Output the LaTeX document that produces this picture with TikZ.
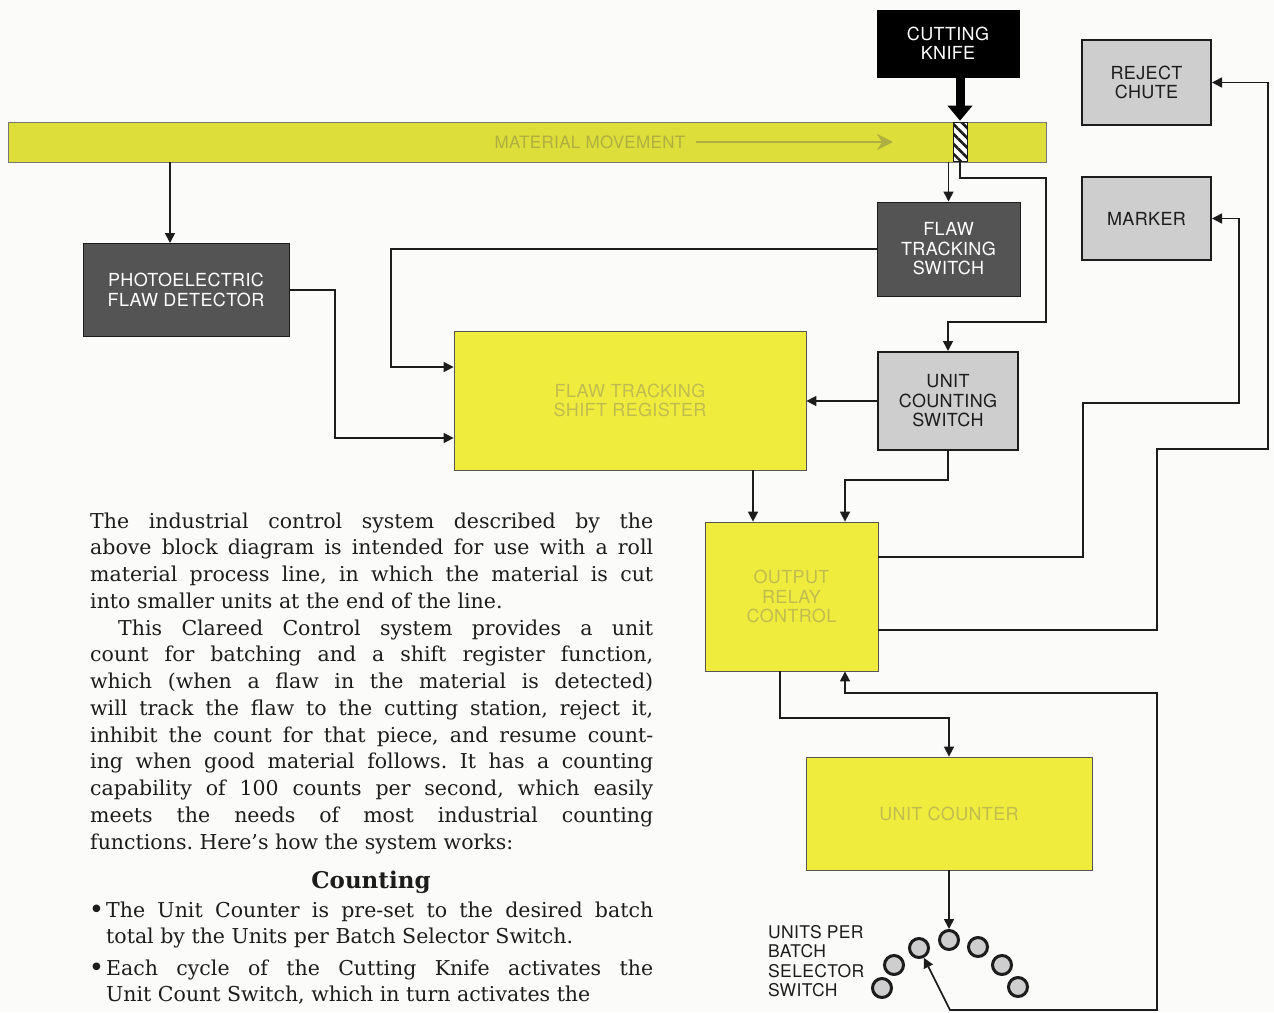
\documentclass[tikz,border=0pt]{standalone}
\usepackage{fontspec}
\usetikzlibrary{arrows.meta,calc,patterns.meta}
\newfontfamily\lab[LetterSpace=2.0]{TeX Gyre Heros}
\newfontfamily\bodyfont{DejaVu Serif}
\definecolor{bandc}{RGB}{222,222,58}
\definecolor{boxy}{RGB}{240,236,62}
\definecolor{faint}{RGB}{192,188,80}
\definecolor{dgray}{RGB}{84,84,84}
\definecolor{lgray}{RGB}{206,206,206}
\definecolor{ink}{RGB}{28,28,28}
\definecolor{paper}{RGB}{251,251,249}
\begin{document}
\begin{tikzpicture}[x=1pt,y=-1pt,
  lbl/.style={font=\lab\fontsize{18}{19.5}\selectfont, align=center, inner sep=0pt},
  yel/.style={lbl, draw=ink!75, line width=0.8pt, fill=boxy, text=faint},
  dark/.style={lbl, draw=ink, line width=1pt, fill=dgray, text=white},
  light/.style={lbl, draw=ink, line width=2pt, fill=lgray, text=ink},
  wire/.style={draw=ink, line width=1.6pt},
  arr/.style={wire, -{Triangle[length=10pt,width=10pt]}},
  arrtwo/.style={wire, {Triangle[length=10pt,width=10pt]}-{Triangle[length=10pt,width=10pt]}},
  bigarr/.style={draw=black, line width=9pt, -{Triangle[length=15pt,width=24pt]}},
  sel/.style={circle, draw=ink, line width=3pt, fill=lgray, minimum size=19pt, inner sep=0pt},
  body/.style={inner sep=0pt, align=justify, font=\bodyfont\fontsize{20.5}{26.75}\selectfont}
]
\useasboundingbox (0,0) rectangle (1274,1012);
\fill[paper] (0,0) rectangle (1274,1012);

% material band
\node[draw=ink!60, line width=0.8pt, fill=bandc, minimum width=1038pt, minimum height=40pt, inner sep=0pt] (band) at (527,142) {};
\node[font=\lab\fontsize{17}{17}\selectfont, text=bandc!75!black!90, inner sep=0pt] (mm) at (590,142) {MATERIAL MOVEMENT};
\coordinate (mmend) at (893,142);
\draw[draw=bandc!75!black!90, line width=2.5pt, -{Stealth[length=16pt,width=16pt]}] ([xshift=10pt]mm.east) -- (mmend);

% blocks
\node[lbl, fill=black, draw=black, text=white, minimum width=142pt, minimum height=67pt] (knife) at (948,43.5) {CUTTING\\KNIFE};
\node[draw=ink, line width=1pt, minimum width=14pt, minimum height=39pt, inner sep=0pt,
      preaction={fill=white}, pattern={Lines[angle=-45,distance=7pt,line width=2.6pt]}, pattern color=ink] (strip) at (960,141.5) {};
\node[light, minimum width=129pt, minimum height=85pt] (reject) at (1146.5,82.5) {REJECT\\CHUTE};
\node[light, minimum width=129pt, minimum height=83pt] (marker) at (1146.5,218.5) {MARKER};
\node[dark, minimum width=206pt, minimum height=93pt] (pfd) at (186,290) {PHOTOELECTRIC\\FLAW DETECTOR};
\node[dark, minimum width=143pt, minimum height=94pt] (fts) at (948.5,249) {FLAW\\TRACKING\\SWITCH};
\node[light, minimum width=140pt, minimum height=98pt] (ucs) at (948,401) {UNIT\\COUNTING\\SWITCH};
\node[yel, minimum width=352pt, minimum height=139pt] (ftsr) at (630,400.5) {FLAW TRACKING\\SHIFT REGISTER};
\node[yel, minimum width=173pt, minimum height=149pt] (orc) at (791.5,596.5) {OUTPUT\\RELAY\\CONTROL};
\node[yel, minimum width=286pt, minimum height=113pt] (uc) at (949,813.5) {UNIT COUNTER};

% selector switch
\node[sel] (c1) at (949,940) {};
\node[sel] (c2) at (919,948) {};
\node[sel] (c3) at (894,965) {};
\node[sel] (c4) at (882,988) {};
\node[sel] (c5) at (978,947) {};
\node[sel] (c6) at (1002,965) {};
\node[sel] (c7) at (1018,987) {};
\node[anchor=north west, align=left, inner sep=0pt, text=ink, font=\lab\fontsize{17.5}{19.4}\selectfont] (sellab) at (768,925) {UNITS PER\\BATCH\\SELECTOR\\SWITCH};

% connectors
\coordinate (pfdin) at (170,0);
\draw[arr] (pfdin |- band.south) -- (pfdin |- pfd.north);
\draw[bigarr] (knife.south -| strip.north) -- (strip.north);
\draw[arr] (fts.north |- band.south) -- (fts.north);
\coordinate (s1) at (1046,178); \coordinate (s2) at (1046,322);
\draw[arr] (strip.south) |- (s1) -- (s2) -| (ucs.north);
\coordinate (f1) at (391,367);
\draw[arr] (fts.west) -| (f1) -- (f1 -| ftsr.west);
\coordinate (p1) at (335,438);
\draw[arr] (pfd.east) -| (p1) -- (p1 -| ftsr.west);
\draw[arr] (ucs.west) -- (ucs.west -| ftsr.east);
\coordinate (r1) at (753,0);
\draw[arr] (r1 |- ftsr.south) -- (r1 |- orc.north);
\coordinate (u1) at (845,480);
\draw[arr] (ucs.south) |- (u1) -- (u1 |- orc.north);
\coordinate (o1) at (1083,557); \coordinate (o2) at (1239,403);
\draw[arr] (o1 -| orc.east) -- (o1) |- (o2) |- (marker.east);
\coordinate (o3) at (1157,630); \coordinate (o4) at (1268,449);
\draw[arr] (o3 -| orc.east) -- (o3) |- (o4) |- (reject.east);
\coordinate (d1) at (780,718);
\draw[arr] (d1 |- orc.south) -- (d1) -| (uc.north);
\coordinate (q1) at (950,1010); \coordinate (q2) at (1157,693); \coordinate (q3) at (845,693);
\draw[arrtwo] (c2) -- (q1) -| (q2) -- (q3) -- (q3 |- orc.south);
\draw[arr] (uc.south -| c1) -- (c1);

% text
\node[body, anchor=base west, text width=563pt, text=ink] (para) at (90,528) {\tolerance=10000\hyphenpenalty=10000\exhyphenpenalty=10000\frenchspacing
The industrial control system described by the\linebreak
above block diagram is intended for use with a roll\linebreak
material process line, in which the material is cut\linebreak
into smaller units at the end of the line.\par
\hspace*{28pt}This Clareed Control system provides a unit\linebreak
count for batching and a shift register function,\linebreak
which (when a flaw in the material is detected)\linebreak
will track the flaw to the cutting station, reject it,\linebreak
inhibit the count for that piece, and resume count-\linebreak
ing when good material follows. It has a counting\linebreak
capability of 100 counts per second, which easily\linebreak
meets the needs of most industrial counting\linebreak
functions. Here’s how the system works:};
\node[anchor=base, inner sep=0pt, text=ink, font=\bodyfont\bfseries\fontsize{23}{23}\selectfont] (head) at (371,888) {Counting};
\node[body, anchor=base west, text width=547pt, text=ink] (b1) at (106,917) {\tolerance=10000\hyphenpenalty=10000\exhyphenpenalty=10000\frenchspacing
\llap{\raisebox{-1pt}{\fontsize{26}{26}\selectfont\textbullet}\hspace{2pt}}The Unit Counter is pre-set to the desired batch\linebreak
total by the Units per Batch Selector Switch.};
\node[body, anchor=base west, text width=547pt, text=ink] (b2) at (106,975) {\tolerance=10000\hyphenpenalty=10000\exhyphenpenalty=10000\frenchspacing\parfillskip=0pt
\llap{\raisebox{-1pt}{\fontsize{26}{26}\selectfont\textbullet}\hspace{2pt}}Each cycle of the Cutting Knife activates the\linebreak
Unit Count Switch, which in turn activates the};
\end{tikzpicture}
\end{document}
